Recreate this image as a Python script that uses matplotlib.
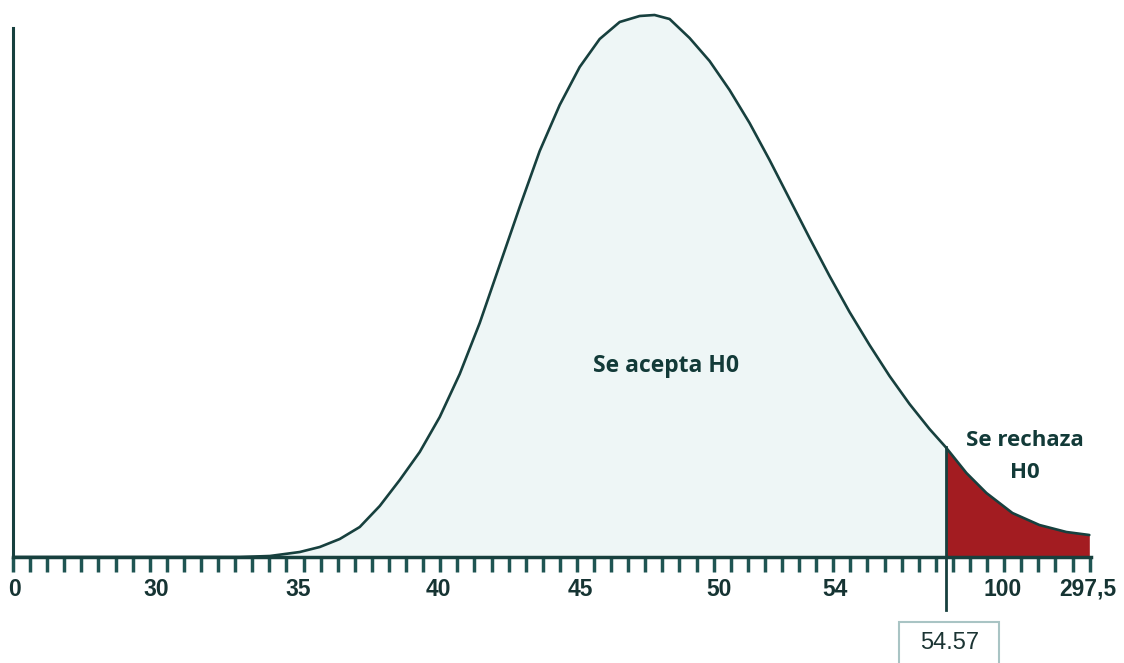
import numpy as np
import matplotlib
matplotlib.use('Agg')
import matplotlib.pyplot as plt
from matplotlib.patches import Rectangle

# Curve: position on the tick axis (one unit per tick)
# and relative density height (arbitrary units, peak ~542)
curve_pos = [13.27, 15.03, 16.78, 17.95, 19.12, 20.29, 21.46, 22.63, 23.80, 24.97,
             26.14, 27.31, 28.48, 29.65, 30.82, 31.99, 33.16, 34.33, 35.50, 36.67,
             37.54, 38.42, 39.59, 40.76, 41.93, 43.10, 44.27, 45.44, 46.61, 47.78,
             48.95, 50.12, 51.29, 52.46, 53.63, 54.57, 55.79, 56.96, 58.48, 60.06,
             61.64, 62.98]
curve_h = [0, 1, 5, 10, 18, 30, 51, 77, 105, 140,
           183, 234, 292, 350, 406, 452, 490, 518, 535, 541,
           542, 538, 519, 496, 467, 434, 397, 358, 319, 281,
           245, 212, 181, 153, 128, 110, 84, 64, 44, 32,
           25, 22]

# Axis labels (schematic, non-linear axis)
tick_labels = ['0', '30', '35', '40', '45', '50', '54', '100', '297,5']
tick_pos = [0.1, 8.4, 16.7, 24.9, 33.2, 41.3, 48.1, 57.9, 62.9]
n_ticks = 64

crit_label = '54.57'
crit_pos = 54.57

dark = '#17403e'
text_col = '#123a38'

fig = plt.figure(figsize=(11.24, 6.63), dpi=100)
ax = fig.add_axes([13 / 1124, 106 / 663, 1077.5 / 1124, 547 / 663])

x = np.array(curve_pos)
y = np.array(curve_h)
acc = x <= crit_pos
rej = x >= crit_pos

ax.fill_between(x[acc], 0, y[acc], color='#eef6f6', lw=0)
ax.fill_between(x[rej], 0, y[rej], color='#a31c21', lw=0)
ax.plot(np.r_[0, x], np.r_[0, y], color=dark, lw=1.9,
        solid_joinstyle='round', solid_capstyle='round')

# critical value line
h_crit = y[x == crit_pos][0]
ax.plot([crit_pos, crit_pos], [-53, h_crit], color=dark, lw=2, clip_on=False)

ax.set_xlim(0, 63.05)
ax.set_ylim(0, 547)

for s in ['top', 'right']:
    ax.spines[s].set_visible(False)
ax.spines['left'].set_bounds(0, 529)
ax.spines['left'].set_color(dark)
ax.spines['left'].set_linewidth(2.2)
ax.spines['bottom'].set_color(dark)
ax.spines['bottom'].set_linewidth(2.5)

ax.set_yticks([])
ax.set_xticks(np.arange(n_ticks), minor=True)
ax.tick_params(axis='x', which='minor', length=11, width=2.5, color='#1f5553', direction='out')
ax.set_xticks(tick_pos)
ax.set_xticklabels(tick_labels, fontfamily='Liberation Sans', fontweight='bold',
                   fontsize=16.5, color='#163433')
ax.tick_params(axis='x', which='major', length=0, pad=15)

ax.text(38.2, 191, 'Se acepta H0', ha='center', va='center', fontsize=16.5,
        fontfamily='Open Sans', fontweight='bold', color=text_col)
ax.text(59.2, 117, 'Se rechaza', ha='center', va='center', fontsize=16,
        fontfamily='Open Sans', fontweight='bold', color=text_col)
ax.text(59.2, 85, 'H0', ha='center', va='center', fontsize=16,
        fontfamily='Open Sans', fontweight='bold', color=text_col)

# boxed critical value below axis (box runs off the bottom edge)
ax.add_patch(Rectangle((51.87, -130), 5.85, 65, fill=False, ec='#a9c4c4',
                       lw=1.5, clip_on=False))
ax.text(54.8, -86, crit_label, ha='center', va='center', fontsize=17,
        fontfamily='Liberation Sans', color='#1b3433', clip_on=False)

fig.savefig('out.png', dpi=100)
